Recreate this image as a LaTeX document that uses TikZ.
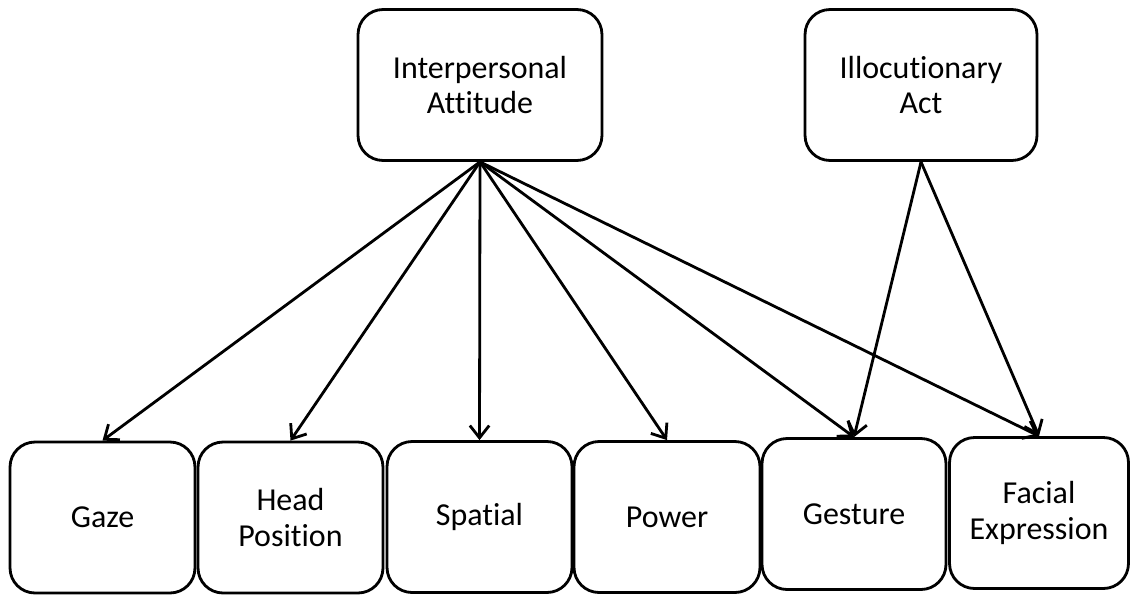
\documentclass[tikz,border=0pt]{standalone}
\usepackage{fontspec}
\setmainfont{Carlito}[Ligatures=CommonOff]
\usetikzlibrary{arrows.meta,positioning}

\begin{document}
\begin{tikzpicture}[x=0.02cm,y=-0.02cm]
\tikzset{box/.style={draw, line width=1.6pt, rounded corners=0.5cm, align=center,
  font=\fontsize{18.2}{20}\selectfont, inner sep=0pt, minimum height=3.02cm},
  link/.style={line width=1.6pt, -{Straight Barb[length=7pt,width=11pt,line width=1.6pt]}}}
\useasboundingbox (0,0) rectangle (1131,595);
\node [box, minimum width=4.88cm] (ia) at (480,85) {Interpersonal\\Attitude};
\node [box, minimum width=4.64cm] (ica) at (921,85) {Illocutionary\\Act};
\node [box, minimum width=3.70cm] (gaze) at (102.5,517.5) {Gaze};
\node [box, minimum width=3.70cm] (head) at (290.5,517.5) {Head\\Position};
\node [box, minimum width=3.70cm] (spatial) at (479.5,517) {Spatial};
\node [box, minimum width=3.72cm] (power) at (667,517) {Power};
\node [box, minimum width=3.68cm] (gesture) at (854,514) {Gesture};
\node [box, minimum width=3.58cm] (facial) at (1039,513) {Facial\\Expression};
\draw [link] (ia.south) -- (gaze.north);
\draw [link] (ia.south) -- (head.north);
\draw [link] (ia.south) -- (spatial.north);
\draw [link] (ia.south) -- (power.north);
\draw [link] (ia.south) -- (gesture.north);
\draw [link] (ia.south) -- (facial.north);
\draw [link] (ica.south) -- (gesture.north);
\draw [link] (ica.south) -- (facial.north);
\end{tikzpicture}
\end{document}
